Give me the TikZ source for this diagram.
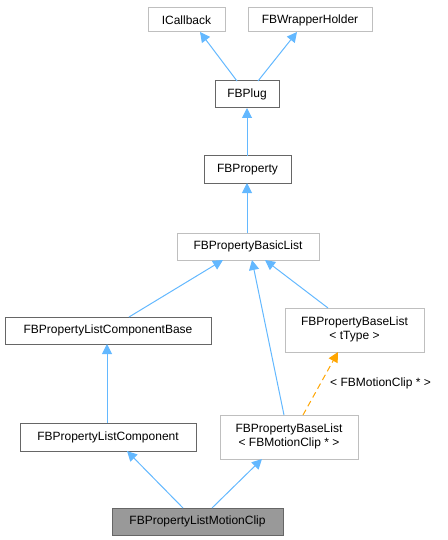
\documentclass[tikz,border=0pt]{standalone}
\usepackage{fontspec}
\setmainfont{Liberation Sans}
\usetikzlibrary{arrows.meta}
\definecolor{edgeblue}{HTML}{63B8FF}
\definecolor{edgeorange}{HTML}{FFA500}
\definecolor{darkborder}{HTML}{666666}
\definecolor{lightborder}{HTML}{BFBFBF}
\tikzset{
  x=1pt,y=-1pt,
  every node/.style={font=\fontsize{12}{14}\selectfont, inner sep=0pt},
  boxdark/.style={draw=darkborder, line width=1pt, fill=white},
  boxlight/.style={draw=lightborder, line width=1pt, fill=white},
  boxmain/.style={draw=darkborder, line width=1pt, fill=black!40},
  inherit/.style={draw=edgeblue, line width=1pt, -{Triangle[length=10pt,width=10pt]}},
  tmpl/.style={draw=edgeorange, line width=1pt, dashed, dash pattern=on 6pt off 4pt, -{Triangle[length=10pt,width=10pt]}},
}
\newcommand{\bx}[6]{% name, style, x1, y1, x2, y2
  \draw[#2] (#3,#4) rectangle (#5,#6);
  \coordinate (#1) at ({(#3+#5)/2},{(#4+#6)/2});
}
\begin{document}
\begin{tikzpicture}
\useasboundingbox (0,0) rectangle (447,540);
% boxes
\draw[boxlight] (148,8) rectangle (225,32);
\node (icb) at (186.5,20) {ICallback};
\draw[boxlight] (248,8) rectangle (372,32);
\node (fbw) at (310,20) {FBWrapperHolder};
\draw[boxdark] (215,81) rectangle (279,108);
\node (plug) at (247,94.5) {FBPlug};
\draw[boxdark] (204,156) rectangle (291,183);
\node (prop) at (247.5,169.5) {FBProperty};
\draw[boxlight] (177,233) rectangle (319,260);
\node (basic) at (248,246.5) {FBPropertyBasicList};
\draw[boxdark] (5,317) rectangle (211,344);
\node (lcb) at (108,330.5) {FBPropertyListComponentBase};
\draw[boxlight] (285,308) rectangle (424,352);
\node[align=center] (bltt) at (354.5,330) {FBPropertyBaseList\\\strut< tType >};
\draw[boxdark] (20,423) rectangle (196,451);
\node (lc) at (108,437) {FBPropertyListComponent};
\draw[boxlight] (220,415) rectangle (358,459);
\node[align=center] (blmc) at (289,437) {FBPropertyBaseList\\\strut< FBMotionClip * >};
\draw[boxmain] (112,508) rectangle (283,535);
\node (mc) at (197.5,521.5) {FBPropertyListMotionClip};
% anchor coordinates
\coordinate (plugT1) at (237,81);
\coordinate (plugT2) at (258,81);
\coordinate (icbB) at (200,32);
\coordinate (fbwB) at (297,32);
\coordinate (plugB) at (247,108);
\coordinate (propT) at (247,156);
\coordinate (propB) at (247,183);
\coordinate (basicT) at (247,233);
\coordinate (basicB1) at (223,260);
\coordinate (basicB2) at (252,260);
\coordinate (basicB3) at (265,260);
\coordinate (lcbT) at (129,317);
\coordinate (blttT) at (328,308);
\coordinate (blttB) at (338,352);
\coordinate (blmcT1) at (284,415);
\coordinate (blmcT2) at (303,415);
\coordinate (lcbB) at (107,344);
\coordinate (lcT) at (107,423);
\coordinate (lcB) at (127,451);
\coordinate (blmcB) at (262,459);
\coordinate (mcT1) at (183,508);
\coordinate (mcT2) at (212,508);
% edges
\draw[inherit] (plugT1) -- (icbB);
\draw[inherit] (plugT2) -- (fbwB);
\draw[inherit] (propT) -- (plugB);
\draw[inherit] (basicT) -- (propB);
\draw[inherit] (lcbT) -- (basicB1);
\draw[inherit] (blmcT1) -- (basicB2);
\draw[inherit] (blttT) -- (basicB3);
\draw[tmpl] (blmcT2) -- (blttB);
\node[anchor=west] (lbl) at (330,383) {< FBMotionClip * >};
\draw[inherit] (lcT) -- (lcbB);
\draw[inherit] (mcT1) -- (lcB);
\draw[inherit] (mcT2) -- (blmcB);
\end{tikzpicture}
\end{document}
